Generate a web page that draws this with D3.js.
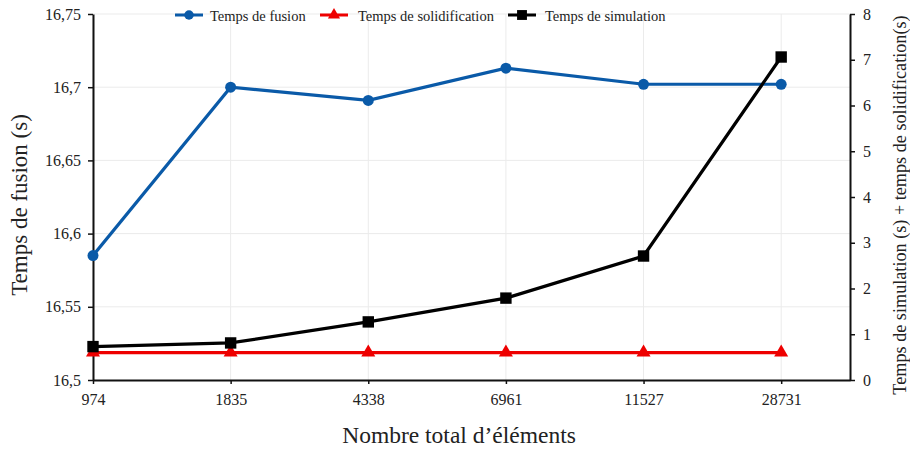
<!DOCTYPE html>
<html>
<head>
<meta charset="utf-8">
<script src="https://cdn.jsdelivr.net/npm/d3@7"></script>
<style>
body { margin:0; background:#fff; }
text { font-family: "Liberation Serif", "DejaVu Serif", serif; fill:#222; }
</style>
</head>
<body>
<div id="chart"></div>
<script>
const categories = ['974', '1835', '4338', '6961', '11527', '28731']
const fusion = [16.585, 16.700, 16.691, 16.713, 16.702, 16.702]
const solidification = [0.6, 0.6, 0.6, 0.6, 0.6, 0.6]
const simulation = [0.73, 0.81, 1.27, 1.79, 2.71, 7.06]
const leftTicks = [16.5, 16.55, 16.6, 16.65, 16.7, 16.75]
const rightTicks = [0, 1, 2, 3, 4, 5, 6, 7, 8]

const width = 910, height = 451
const margin = {left:93, top:14, right:60, bottom:71}

const svg = d3.select('#chart').append('svg')
.attr('width', width)
.attr('height', height)

const xScale = d3.scaleLinear()
.domain([0, 5.5])
.range([margin.left, width - margin.right])

const yLeft = d3.scaleLinear()
.domain([16.5, 16.75])
.range([height - margin.bottom, margin.top])

const yRight = d3.scaleLinear()
.domain([0, 8])
.range([height - margin.bottom, margin.top])

const fmt = d => String(d).replace('.', ',')

// grid
const grid = svg.append('g')
grid.selectAll('.vg').data(categories).enter().append('line')
.attr('x1', (d,i) => xScale(i)).attr('x2', (d,i) => xScale(i))
.attr('y1', margin.top).attr('y2', height - margin.bottom)
.style('stroke', '#ebebeb').style('stroke-width', 1)
grid.selectAll('.hg').data(leftTicks.slice(1)).enter().append('line')
.attr('x1', margin.left).attr('x2', width - margin.right)
.attr('y1', d => yLeft(d)).attr('y2', d => yLeft(d))
.style('stroke', '#ebebeb').style('stroke-width', 1)

// axes
const xAxis = svg.append('g')
.attr('transform', `translate(0,${height - margin.bottom})`)
.call(d3.axisBottom(xScale).tickValues(d3.range(categories.length)).tickFormat(i => categories[i]).tickSize(4).tickSizeOuter(0))

const leftAxis = svg.append('g')
.attr('transform', `translate(${margin.left},0)`)
.call(d3.axisLeft(yLeft).tickValues(leftTicks).tickFormat(fmt).tickSize(5).tickSizeOuter(0))

const rightAxis = svg.append('g')
.attr('transform', `translate(${width - margin.right},0)`)
.call(d3.axisRight(yRight).tickValues(rightTicks).tickSize(5).tickSizeOuter(0))

svg.selectAll('.domain').style('stroke', '#111').style('stroke-width', 2)
svg.selectAll('.tick line').style('stroke', '#111').style('stroke-width', 1.5)
svg.selectAll('.tick text').style('font-size', '16px').style('font-family', '"Liberation Serif", serif').style('fill', '#222')
xAxis.selectAll('.tick text').attr('dy', '1.15em')
leftAxis.selectAll('.tick text').attr('x', -12)
rightAxis.selectAll('.tick text').attr('x', 13)

// axis titles
svg.append('text')
.attr('x', 459).attr('y', 443)
.attr('text-anchor', 'middle')
.style('font-size', '23.5px')
.text('Nombre total d\u2019éléments')

svg.append('text')
.attr('transform', `translate(27,205) rotate(-90)`)
.attr('text-anchor', 'middle')
.style('font-size', '23px')
.text('Temps de fusion (s)')

svg.append('text')
.attr('transform', `translate(906,205) rotate(-90)`)
.attr('text-anchor', 'middle')
.style('font-size', '18.2px')
.text('Temps de simulation (s) + temps de solidification(s)')

// series
const series = [
	{name:'Temps de fusion', values:fusion, y:yLeft, color:'#0a5aa8', marker:'circle'},
	{name:'Temps de solidification', values:solidification, y:yRight, color:'#ee0000', marker:'triangle'},
	{name:'Temps de simulation', values:simulation, y:yRight, color:'#000000', marker:'square'}
]

const symbolFor = m => m == 'circle' ? d3.symbolCircle : m == 'triangle' ? d3.symbolTriangle : d3.symbolSquare
const sizeFor = m => m == 'circle' ? 95 : m == 'triangle' ? 85 : 130

const lines = svg.append('g')
series.forEach(s => {
	const line = d3.line()
	.x((d,i) => xScale(i))
	.y(d => s.y(d))

	lines.append('path')
	.attr('d', line(s.values))
	.style('fill', 'none')
	.style('stroke', s.color)
	.style('stroke-width', 3.2)

	lines.selectAll(null).data(s.values).enter().append('path')
	.attr('transform', (d,i) => `translate(${xScale(i)},${s.y(d)})`)
	.attr('d', d3.symbol().type(symbolFor(s.marker)).size(sizeFor(s.marker)))
	.style('fill', s.color)
})

// legend
const legendX = [175, 320, 508]
const legendTextX = [210, 358, 545]
const legend = svg.append('g')
series.forEach((s,i) => {
	const g = legend.append('g').attr('transform', `translate(${legendX[i]},15)`)
	g.append('line').attr('x1', 0).attr('x2', 28).attr('y1', 0).attr('y2', 0)
	.style('stroke', s.color).style('stroke-width', 3)
	g.append('path').attr('transform', 'translate(14,0)')
	.attr('d', d3.symbol().type(symbolFor(s.marker)).size(sizeFor(s.marker) * 0.75))
	.style('fill', s.color)
	g.append('text').attr('x', legendTextX[i] - legendX[i]).attr('y', 5.5)
	.style('font-size', '14.5px')
	.text(s.name)
})
</script>
</body>
</html>
